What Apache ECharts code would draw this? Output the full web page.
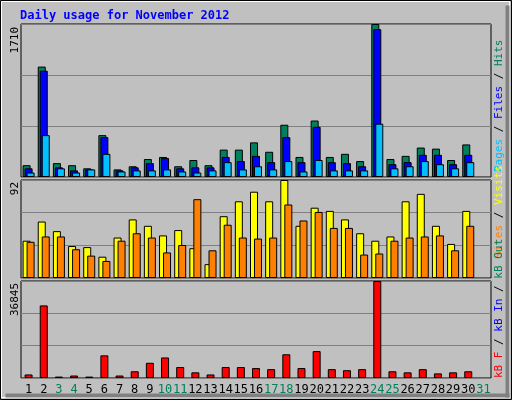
<!DOCTYPE html>
<html>
<head>
<meta charset="utf-8">
<script src="https://cdn.jsdelivr.net/npm/echarts@6/dist/echarts.min.js"></script>
<style>
  html, body { margin: 0; padding: 0; background: #c0c0c0; }
  #chart { width: 512px; height: 400px; }
</style>
</head>
<body>
<div id="chart"></div>
<script>
const days = ['1', '2', '3', '4', '5', '6', '7', '8', '9', '10', '11', '12', '13', '14', '15', '16',
  '17', '18', '19', '20', '21', '22', '23', '24', '25', '26', '27', '28', '29', '30', '31'];
const weekend = ['3', '4', '10', '11', '17', '18', '24', '25', '31'];

const hits = [132, 1234, 155, 132, 97, 468, 85, 120, 201, 224, 120, 190, 132, 306, 306, 387,
  282, 584, 224, 631, 224, 259, 178, 1710, 201, 236, 329, 317, 190, 364, null];
const files = [97, 1188, 108, 74, 85, 445, 74, 108, 155, 213, 97, 108, 108, 224, 178, 236,
  166, 445, 166, 561, 166, 155, 120, 1652, 143, 166, 248, 248, 143, 248, null];
const pages = [50, 468, 97, 50, 85, 259, 62, 74, 74, 85, 62, 50, 74, 166, 85, 120,
  85, 178, 62, 190, 74, 74, 74, 596, 97, 120, 178, 143, 97, 166, null];

const visits = [35, 53, 44, 30, 29, 20, 38, 55, 49, 40, 45, 28, 13, 58, 72, 81,
  72, 92, 49, 66, 63, 55, 42, 35, 39, 72, 79, 49, 32, 63, null];
const sites = [34, 39, 39, 27, 21, 16, 35, 42, 38, 24, 31, 74, 26, 50, 38, 37,
  38, 69, 54, 62, 47, 47, 22, 23, 35, 38, 39, 40, 26, 49, null];

const kbF = [1345, 27570, 540, 940, 540, 8600, 940, 2555, 5780, 7800, 4170, 2150, 1345, 4170, 4170, 3770,
  3360, 9010, 3770, 10220, 3360, 2960, 3360, 36845, 2555, 2150, 3360, 1750, 2150, 2555, null];

const maxTop = 1710;
const maxMid = 92;
const maxBot = 36845;

const chart = echarts.init(document.getElementById('chart'));

const panels = [
  { top: 24, height: 153 },
  { top: 180, height: 98 },
  { top: 281, height: 97 },
];
const maxes = [maxTop, maxMid, maxBot];

const barBorder = { borderColor: '#000', borderWidth: 1 };

function bar(idx, data, color, gap) {
  return {
    type: 'bar', xAxisIndex: idx, yAxisIndex: idx, data,
    barWidth: 8, barGap: gap, animation: false,
    itemStyle: Object.assign({ color }, barBorder),
  };
}

function sideText(x, y, parts, align) {
  return {
    type: 'text', x, y, rotation: Math.PI / 2,
    style: {
      text: parts.map((p) => '{' + p[1] + '|' + p[0] + '}').join(''),
      align, verticalAlign: 'middle',
      font: '11px "DejaVu Sans Mono"',
      rich: {
        g: { fill: '#00805c', font: '11px "DejaVu Sans Mono"' },
        b: { fill: '#0000ff', font: '11px "DejaVu Sans Mono"' },
        c: { fill: '#00c0ff', font: '11px "DejaVu Sans Mono"' },
        k: { fill: '#000', font: '11px "DejaVu Sans Mono"' },
        y: { fill: '#ffff00', font: '11px "DejaVu Sans Mono"' },
        o: { fill: '#ff8000', font: '11px "DejaVu Sans Mono"' },
        r: { fill: '#ff0000', font: '11px "DejaVu Sans Mono"' },
      },
    },
  };
}

const option = {
  backgroundColor: '#c0c0c0',
  grid: panels.map((p) => ({
    left: 21, width: 470, top: p.top, height: p.height,
    show: true, backgroundColor: '#c0c0c0', borderColor: '#000', borderWidth: 1,
  })),
  xAxis: panels.map((p, i) => ({
    type: 'category', gridIndex: i, data: days,
    axisLine: { show: false }, axisTick: { show: false },
    axisLabel: i === 2 ? {
      show: true, margin: 6, fontSize: 12, fontFamily: 'DejaVu Sans Mono',
      color: (v) => (weekend.includes(v) ? '#00805c' : '#000'),
      interval: 0,
    } : { show: false },
  })),
  yAxis: maxes.map((m, i) => ({
    type: 'value', gridIndex: i, min: 0, max: m, interval: m / 3,
    axisLabel: { show: false }, axisLine: { show: false }, axisTick: { show: false },
    splitLine: { show: true, lineStyle: { color: '#808080', width: 1 } },
  })),
  series: [
    bar(0, hits, '#00805c', '-75%'),
    bar(0, files, '#0000ff', '-75%'),
    bar(0, pages, '#00c0ff', '-75%'),
    bar(1, visits, '#ffff00', '-50%'),
    bar(1, sites, '#ff8000', '-50%'),
    bar(2, kbF, '#ff0000', '0%'),
  ],
  graphic: [
    { type: 'rect', shape: { x: 0.5, y: 0.5, width: 511, height: 399 },
      style: { fill: 'none', stroke: '#000', lineWidth: 1 } },
    { type: 'rect', shape: { x: 1.5, y: 1.5, width: 508, height: 396 },
      style: { fill: 'none', stroke: '#fff', lineWidth: 1 } },
    { type: 'rect', shape: { x: 5.5, y: 393.5, width: 504, height: 4 },
      style: { fill: '#808080' } },
    { type: 'rect', shape: { x: 505.5, y: 5.5, width: 4, height: 392 },
      style: { fill: '#808080' } },
    { type: 'text', x: 20, y: 16, style: {
      text: 'Daily usage for November 2012', fill: '#0000ff',
      font: 'bold 12px "DejaVu Sans Mono"', verticalAlign: 'middle' } },
    sideText(15, 27, [[String(maxTop), 'k']], 'right'),
    sideText(15, 182, [[String(maxMid), 'k']], 'right'),
    sideText(15, 283, [[String(maxBot), 'k']], 'right'),
    sideText(499, 172, [['Pages', 'c'], [' / ', 'k'], ['Files', 'b'], [' / ', 'k'], ['Hits', 'g']], 'left'),
    sideText(499, 258, [['Sites', 'o'], [' / ', 'k'], ['Visits', 'y']], 'left'),
    sideText(499, 378, [['kB F', 'r'], [' / ', 'k'], ['kB In', 'b'], [' / ', 'k'], ['kB Out', 'g']], 'left'),
  ],
};

chart.setOption(option);
</script>
</body>
</html>
